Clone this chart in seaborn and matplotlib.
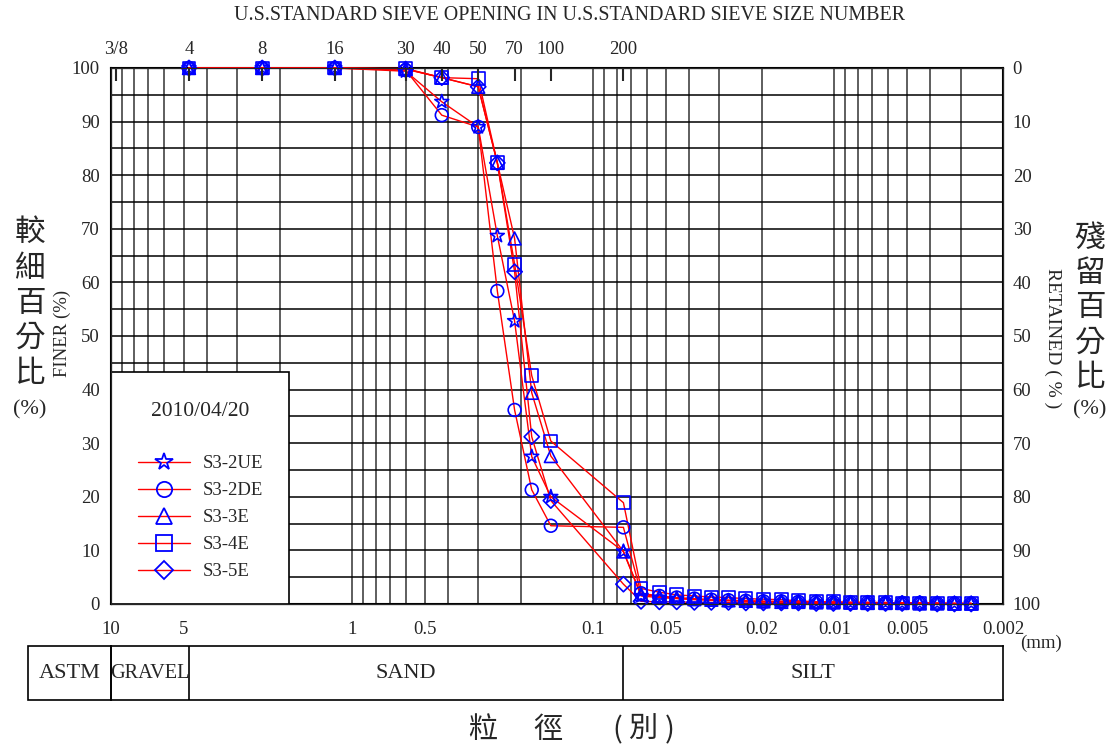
import matplotlib
matplotlib.use("Agg")
import numpy as np
import pandas as pd
import seaborn as sns
import matplotlib.pyplot as plt
from matplotlib.ticker import FixedLocator, LogLocator, MultipleLocator, NullFormatter, NullLocator
from matplotlib.lines import Line2D
from matplotlib.patches import Rectangle

# datos
size_mm = [4.75, 2.36, 1.18, 0.6, 0.425, 0.3, 0.25, 0.212, 0.18, 0.15, 0.075,
           0.0634, 0.0532, 0.0451, 0.0381, 0.0324, 0.0275, 0.0233, 0.0197, 0.0166, 0.0141,
           0.0119, 0.0101, 0.00858, 0.00728, 0.00614, 0.00524, 0.00443, 0.00375, 0.00318, 0.00271]

s3_2ue = [100, 100, 100, 99.4, 93.7, 89.0, 68.7, 52.8, 27.5, 20.0, 9.8,
          1.5, 1.2, 1.0, 0.8, 0.7, 0.6, 0.5, 0.4, 0.4, 0.3, 0.3, 0.3, 0.2, 0.2, 0.2, 0.1, 0.1, 0.1, 0.1, 0.1]
s3_2de = [100, 100, 100, 99.6, 91.2, 89.0, 58.4, 36.2, 21.3, 14.6, 14.3,
          2.0, 1.5, 1.2, 1.0, 0.8, 0.7, 0.6, 0.5, 0.5, 0.4, 0.4, 0.3, 0.3, 0.3, 0.2, 0.2, 0.2, 0.1, 0.1, 0.1]
s3_3e = [100, 100, 100, 99.8, 98.2, 96.5, 82.3, 68.2, 39.4, 27.6, 9.8,
         1.8, 1.4, 1.1, 0.9, 0.8, 0.7, 0.6, 0.5, 0.4, 0.4, 0.3, 0.3, 0.3, 0.2, 0.2, 0.2, 0.1, 0.1, 0.1, 0.1]
s3_4e = [100, 100, 100, 99.9, 98.2, 98.0, 82.3, 63.4, 42.6, 30.4, 18.9,
         2.9, 2.2, 1.7, 1.5, 1.3, 1.2, 1.0, 0.9, 0.8, 0.6, 0.4, 0.4, 0.3, 0.3, 0.3, 0.2, 0.2, 0.2, 0.1, 0.1]
s3_5e = [100, 100, 100, 99.8, 98.2, 96.5, 82.3, 62.0, 31.2, 19.3, 3.7,
         0.5, 0.4, 0.4, 0.3, 0.3, 0.3, 0.2, 0.2, 0.2, 0.2, 0.1, 0.1, 0.1, 0.1, 0.1, 0.1, 0.1, 0.0, 0.0, 0.0]

samples = ["S3-2UE", "S3-2DE", "S3-3E", "S3-4E", "S3-5E"]
sample_markers = ["*", "o", "^", "s", "D"]

x_ticks = [10, 5, 1, 0.5, 0.1, 0.05, 0.02, 0.01, 0.005, 0.002]
x_labels = ["10", "5", "1", "0.5", "0.1", "0.05", "0.02", "0.01", "0.005", "0.002"]
sieve_mm = [9.5, 4.75, 2.36, 1.18, 0.6, 0.425, 0.3, 0.212, 0.15, 0.075]
sieve_labels = ["3/8", "4", "8", "16", "30", "40", "50", "70", "100", "200"]

zone_bounds = [10, 4.75, 0.075, 0.002]
zone_names = ["GRAVEL", "SAND", "SILT"]

df = pd.DataFrame({
    "size": size_mm * 5,
    "finer": s3_2ue + s3_2de + s3_3e + s3_4e + s3_5e,
    "sample": np.repeat(samples, len(size_mm)),
})

sns.set_style("white")
plt.rcParams["font.family"] = ["Liberation Serif", "Noto Sans CJK TC"]
cjk = ["Noto Sans CJK TC", "DejaVu Sans"]

W, H = 1116, 751
def fx(px):
    return px / W
def fy(py):
    return 1 - py / H

fig = plt.figure(figsize=(W / 100, H / 100), dpi=100)
ax = fig.add_axes([fx(111), fy(604), (1003 - 111) / W, (604 - 68) / H])
ax.set_xscale("log")

marker_size = {"*": 110, "o": 85, "^": 85, "s": 85, "D": 60}
for name, mk in zip(samples, sample_markers):
    sub = df[df["sample"] == name]
    sns.lineplot(data=sub, x="size", y="finer", color="red", linewidth=1.0, sort=False,
                 estimator=None, ax=ax, zorder=3, clip_on=False)
    sns.scatterplot(data=sub, x="size", y="finer", marker=mk, s=marker_size[mk],
                    facecolor="none", edgecolor="blue", linewidth=1.2, ax=ax, zorder=4, clip_on=False)

ax.set_xlim(10, 0.002)
ax.set_ylim(0, 100)
ax.set_xlabel("")
ax.set_ylabel("")

ax.xaxis.set_major_locator(FixedLocator(x_ticks))
ax.set_xticklabels(x_labels)
ax.xaxis.set_minor_locator(LogLocator(base=10, subs=np.arange(1, 10), numticks=60))
ax.xaxis.set_minor_formatter(NullFormatter())
ax.yaxis.set_major_locator(MultipleLocator(10))
ax.yaxis.set_minor_locator(MultipleLocator(5))
ax.tick_params(which="both", length=0)
ax.tick_params(axis="x", pad=12, labelsize=13.5)
ax.tick_params(axis="y", pad=8, labelsize=13.5)
ax.grid(which="both", axis="x", color="0.2", linewidth=1.1)
ax.grid(which="both", axis="y", color="black", linewidth=1.1)
ax.set_axisbelow(True)
for sp in ax.spines.values():
    sp.set_color("black")
    sp.set_linewidth(1.5)

# eje superior: tamices
ax_top = ax.twiny()
ax_top.set_xscale("log")
ax_top.set_xlim(10, 0.002)
ax_top.xaxis.set_major_locator(FixedLocator(sieve_mm))
ax_top.set_xticklabels(sieve_labels)
ax_top.xaxis.set_minor_locator(NullLocator())
ax_top.tick_params(axis="x", direction="in", length=9, width=1.5, pad=7, labelsize=13.5)

# eje derecho: retenido
ax_r = ax.twinx()
ax_r.set_ylim(100, 0)
ax_r.yaxis.set_major_locator(MultipleLocator(10))
ax_r.tick_params(axis="y", length=0, pad=7, labelsize=13.5)

# leyenda
ax.add_patch(Rectangle((0, 0), (289 - 111) / 892, (604 - 372) / 536, transform=ax.transAxes,
                       facecolor="white", edgecolor="black", linewidth=1.2, zorder=5))
ax.text((200 - 111) / 892, (604 - 412) / 536, "2010/04/20", transform=ax.transAxes,
        ha="center", va="center", fontsize=15.5, zorder=6)
legend_ms = {"*": 13, "o": 11, "^": 11, "s": 11, "D": 9}
handles = [Line2D([], [], color="red", linewidth=1.0, marker=m, markersize=legend_ms[m],
                  markerfacecolor="none", markeredgecolor="blue", markeredgewidth=1.3)
           for m in sample_markers]
leg = ax.legend(handles, samples, loc="upper left", bbox_to_anchor=((138 - 111) / 892, (604 - 455) / 536),
                frameon=False, fontsize=13.5, handlelength=2.75, handletextpad=0.7,
                labelspacing=0.53, borderpad=0, borderaxespad=0)
leg.set_zorder(6)

# tabla ASTM
ax_tab = fig.add_axes([fx(111), fy(700), (1003 - 111) / W, (700 - 646) / H])
ax_tab.set_xscale("log")
ax_tab.set_xlim(10, 0.002)
ax_tab.set_ylim(0, 1)
ax_tab.set_xticks([])
ax_tab.set_yticks([])
ax_tab.xaxis.set_minor_locator(NullLocator())
for sp in ax_tab.spines.values():
    sp.set_color("black")
    sp.set_linewidth(1.2)
for b in zone_bounds[1:-1]:
    ax_tab.axvline(b, color="black", linewidth=1.2)
for lo, hi, nm in zip(zone_bounds[:-1], zone_bounds[1:], zone_names):
    ax_tab.text(np.sqrt(lo * hi), 0.5, nm, ha="center", va="center",
                fontsize=14.6 if nm == "GRAVEL" else 16)
ax_tab.add_patch(Rectangle((-83 / 892, 0), 83 / 892, 1, transform=ax_tab.transAxes, facecolor="none",
                           edgecolor="black", linewidth=1.2, clip_on=False))
ax_tab.text(-41.5 / 892, 0.5, "ASTM", transform=ax_tab.transAxes, ha="center", va="center", fontsize=16)

# textos
fig.text(fx(570), fy(15), "U.S.STANDARD SIEVE OPENING IN U.S.STANDARD SIEVE SIZE NUMBER",
         ha="center", va="center", fontsize=14.4)
fig.text(fx(1041), fy(643), "(mm)", ha="center", va="center", fontsize=13.5)

left_chars = ["較", "細", "百", "分", "比"]
right_chars = ["殘", "留", "百", "分", "比"]
left_y = [232, 268, 303, 338, 373]
right_y = [238, 273, 308, 343, 377]
for ch, yy in zip(left_chars, left_y):
    fig.text(fx(30), fy(yy), ch, ha="center", va="center", fontsize=22, family=cjk)
for ch, yy in zip(right_chars, right_y):
    fig.text(fx(1090), fy(yy), ch, ha="center", va="center", fontsize=22, family=cjk)
fig.text(fx(30), fy(410), "(%)", ha="center", va="center", fontsize=16)
fig.text(fx(1090), fy(410), "(%)", ha="center", va="center", fontsize=16)
fig.text(fx(62), fy(333), "FINER (%)", rotation=90, ha="center", va="center", fontsize=13.5)
fig.text(fx(1053), fy(338), "RETAINED ( % )", rotation=-90, ha="center", va="center", fontsize=14)

bottom_chars = ["粒", "徑", "(", "別", ")"]
bottom_x = [483, 548, 617, 643, 670]
for ch, xx in zip(bottom_chars, bottom_x):
    fig.text(fx(xx), fy(730), ch, ha="center", va="center", fontsize=21, family=cjk)

fig.savefig("out.png", dpi=100)
